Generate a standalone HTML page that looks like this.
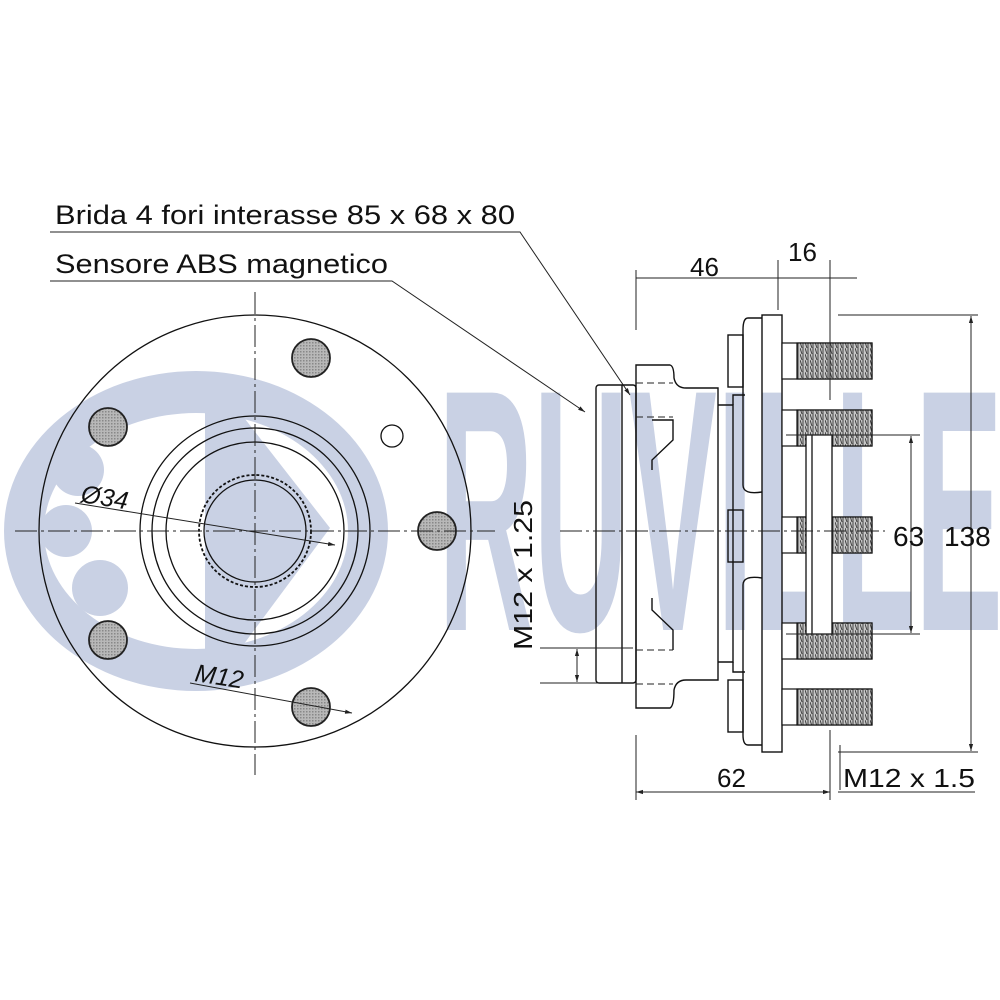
<!DOCTYPE html>
<html><head><meta charset="utf-8"><style>
html,body{margin:0;padding:0;background:#fff}
svg{display:block}
text{font-family:"Liberation Sans",sans-serif;fill:#111}
</style></head><body>
<svg width="1000" height="1000" viewBox="0 0 1000 1000" xmlns="http://www.w3.org/2000/svg">
<defs>
<pattern id="dots" width="3" height="3" patternUnits="userSpaceOnUse"><rect width="3" height="3" fill="#b8b8b8"/><rect width="1.5" height="1.5" fill="#888"/></pattern>
<pattern id="thr" width="5" height="6" patternUnits="userSpaceOnUse"><rect width="5" height="6" fill="#c8c8c8"/><path d="M0 0 L2 6 M3 0 L3 6" stroke="#444" stroke-width="1"/></pattern>
<marker id="ar" viewBox="0 0 10 10" refX="10" refY="5" markerWidth="7" markerHeight="7" orient="auto-start-reverse"><path d="M0 2 L10 5 L0 8 z" fill="#222"/></marker>
</defs>
<!-- logo -->
<g fill="#c9d1e4">
<path fill-rule="evenodd" d="M4 531 a192 160 0 1 0 384 0 a192 160 0 1 0 -384 0 z M44 531 a152 118 0 1 0 304 0 a152 118 0 1 0 -304 0 z"/>
<path d="M238 410 L330 528 L238 652 L205 652 L205 410 z"/>
<circle cx="78" cy="470" r="26"/><circle cx="66" cy="531" r="26"/><circle cx="100" cy="588" r="28"/>
<text x="438" y="630" font-size="345" font-weight="bold" textLength="565" lengthAdjust="spacingAndGlyphs" style="fill:#c9d1e4">RUVILLE</text>
</g>
<g fill="none" stroke="#111" stroke-width="1.3">
<circle cx="255" cy="531" r="216"/>
<circle cx="255" cy="531" r="115"/>
<circle cx="255" cy="531" r="103"/>
<circle cx="255" cy="531" r="89"/>
<circle cx="255" cy="531" r="56" stroke-dasharray="3 2" stroke-width="1.8"/>
<circle cx="255" cy="531" r="51"/>
<circle cx="392" cy="436" r="11"/>
</g>
<g fill="url(#dots)" stroke="#222" stroke-width="1.8">
<circle cx="311" cy="358" r="19"/><circle cx="108" cy="427" r="19"/><circle cx="437" cy="531" r="19"/><circle cx="108" cy="640" r="19"/><circle cx="311" cy="707" r="19"/>
</g>
<g stroke="#222" stroke-width="1" fill="none">
<path d="M255 292 V775" stroke-dasharray="22 4 3 4"/>
<path d="M15 531 H495" stroke-dasharray="22 4 3 4"/>
<path d="M75 503 L335 545" marker-end="url(#ar)"/>
<path d="M190 683 L352 713" marker-end="url(#ar)"/>
</g>
<text x="80" y="502" font-size="25" font-style="italic" transform="rotate(9 80 502)">Ø34</text>
<text x="194" y="681" font-size="25" font-style="italic" transform="rotate(9 194 681)">M12</text>
<!-- labels -->
<text x="55" y="224" font-size="27" textLength="460" lengthAdjust="spacingAndGlyphs">Brida 4 fori interasse 85 x 68 x 80</text>
<text x="55" y="273" font-size="27" textLength="333" lengthAdjust="spacingAndGlyphs">Sensore ABS magnetico</text>
<g stroke="#222" stroke-width="1" fill="none">
<path d="M50 232 H520 L630 395" marker-end="url(#ar)"/>
<path d="M50 281 H392 L585 412" marker-end="url(#ar)"/>
</g>
<!-- right view -->
<g fill="none" stroke="#111" stroke-width="1.4">
<rect x="596" y="385" width="40" height="298" rx="3"/>
<path d="M622 385 V683"/>
<path d="M636 365 H670 Q674 366 674 378 Q676 388 686 388 H718 V680 H686 Q676 680 674 690 Q674 706 670 708 H636 Z"/>
<path d="M652 420 L673 420 L673 440 L652 460 L652 470 M652 598 L652 610 L673 630 L673 650"/>
<path d="M718 405 H733 V662 H718"/>
<path d="M733 405 V395 H745 M733 662 V672 H745"/>
<rect x="728" y="335" width="15" height="52"/>
<rect x="728" y="510" width="15" height="52"/>
<rect x="728" y="680" width="15" height="52"/>
<path d="M762 318 H748 Q743 318 743 330 V485 Q743 495 762 492 M762 578 Q743 575 743 585 V735 Q743 745 748 745 H762"/>
<rect x="762" y="315" width="20" height="437"/>
</g>
<g stroke="#222" stroke-width="1" stroke-dasharray="7 4" fill="none">
<path d="M636 383 H673 M636 417 H673 M636 650 H673 M636 684 H673"/>
</g>
<g stroke="#111" stroke-width="1.2">
<rect x="782" y="343" width="90" height="36" fill="#fff"/><rect x="797" y="343" width="75" height="36" fill="url(#thr)"/>
<rect x="782" y="410" width="90" height="36" fill="#fff"/><rect x="797" y="410" width="75" height="36" fill="url(#thr)"/>
<rect x="782" y="517" width="90" height="36" fill="#fff"/><rect x="797" y="517" width="75" height="36" fill="url(#thr)"/>
<rect x="782" y="623" width="90" height="36" fill="#fff"/><rect x="797" y="623" width="75" height="36" fill="url(#thr)"/>
<rect x="782" y="689" width="90" height="36" fill="#fff"/><rect x="797" y="689" width="75" height="36" fill="url(#thr)"/>
</g>
<g fill="none" stroke="#111" stroke-width="1.3"><rect x="806" y="435" width="26" height="199" fill="#fff"/><path d="M812 435 V634"/></g>
<!-- dims -->
<g stroke="#222" stroke-width="1" fill="none">
<path d="M560 531 H885" stroke-dasharray="22 4 3 4"/>
<path d="M636 270 V330 M636 735 V800 M778 260 V310 M830 260 V400 M830 730 V800"/>
<path d="M636 278 H857" />
<path d="M636 792 H830" marker-start="url(#ar)" marker-end="url(#ar)"/>
<path d="M838 315 H978 M838 752 H978 M786 435 H920 M786 634 H920"/>
<path d="M971 316 V751" marker-start="url(#ar)" marker-end="url(#ar)"/>
<path d="M911 436 V633" marker-start="url(#ar)" marker-end="url(#ar)"/>
<path d="M540 648 H633 M540 683 H633"/>
<path d="M577 649 V682" marker-start="url(#ar)" marker-end="url(#ar)"/>
<path d="M838 792 H975 M840 745 V790"/>
</g>
<text x="690" y="276" font-size="26">46</text>
<text x="788" y="261" font-size="26">16</text>
<text x="717" y="787" font-size="26">62</text>
<text x="843" y="787" font-size="26" textLength="132" lengthAdjust="spacingAndGlyphs">M12 x 1.5</text>
<text x="893" y="546" font-size="28">63</text>
<text x="944" y="546" font-size="28">138</text>
<text x="0" y="0" font-size="26" textLength="150" lengthAdjust="spacingAndGlyphs" transform="translate(532 650) rotate(-90)">M12 x 1.25</text>
</svg>
</body></html>
